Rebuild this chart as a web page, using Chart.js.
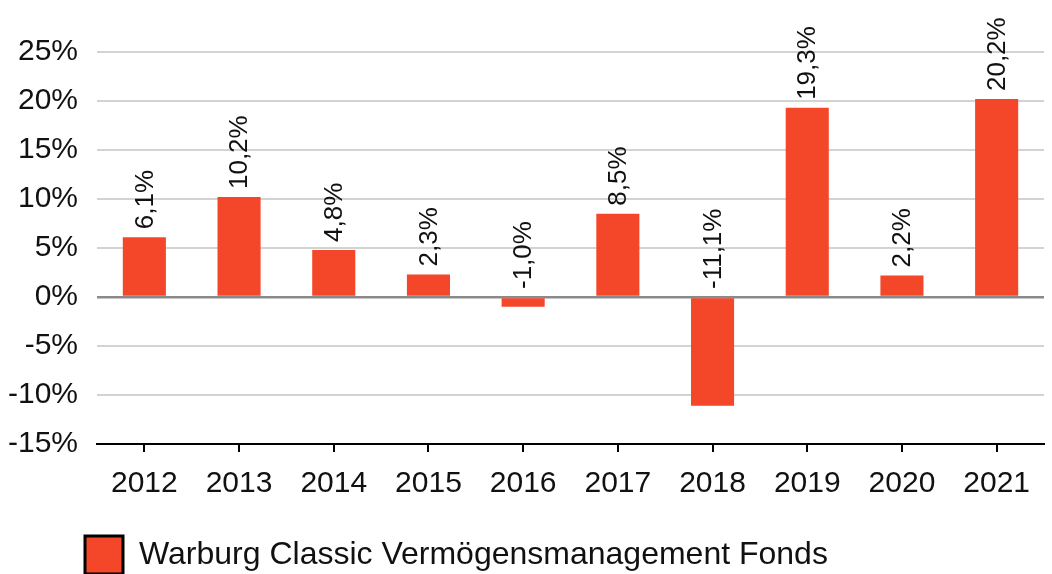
<!DOCTYPE html>
<html>
<head>
<meta charset="utf-8">
<script src="https://cdn.jsdelivr.net/npm/chart.js@4/dist/chart.umd.min.js"></script>
<style>
  html, body { margin: 0; padding: 0; background: #ffffff; }
  #wrap { width: 1052px; height: 574px; }
</style>
</head>
<body>
<div id="wrap"><canvas id="c" width="1052" height="574"></canvas></div>
<script>
const categories = ['2012', '2013', '2014', '2015', '2016', '2017', '2018', '2019', '2020', '2021'];
const fundReturns = [6.1, 10.2, 4.8, 2.3, -1.0, 8.5, -11.1, 19.3, 2.2, 20.2];
const seriesName = 'Warburg Classic Vermögensmanagement Fonds';
const yTicks = [-15, -10, -5, 0, 5, 10, 15, 20, 25];

const BAR_COLOR = '#F4472A';
const FONT = 'Liberation Sans, Arial, sans-serif';

function fmt(v) { return v.toFixed(1).replace('.', ',') + '%'; }

const valueLabels = {
  id: 'valueLabels',
  afterDatasetsDraw(chart) {
    const ctx = chart.ctx;
    const meta = chart.getDatasetMeta(0);
    const yScale = chart.scales.y;
    const zeroY = yScale.getPixelForValue(0);
    ctx.save();
    ctx.font = '26px ' + FONT;
    ctx.fillStyle = '#111111';
    ctx.textAlign = 'left';
    ctx.textBaseline = 'middle';
    meta.data.forEach((bar, i) => {
      const v = fundReturns[i];
      const startY = (v >= 0 ? bar.y : zeroY) - 8;
      ctx.save();
      ctx.translate(bar.x, startY);
      ctx.rotate(-Math.PI / 2);
      ctx.fillText(fmt(v), 0, 1);
      ctx.restore();
    });
    ctx.restore();
  }
};

const legendShift = {
  id: 'legendShift',
  afterLayout(chart) {
    const lg = chart.legend;
    if (lg) { lg.left = 75; lg.right = 1052; }
  }
};

new Chart(document.getElementById('c'), {
  type: 'bar',
  data: {
    labels: categories,
    datasets: [{
      label: seriesName,
      data: fundReturns,
      backgroundColor: BAR_COLOR,
      borderWidth: 0,
      categoryPercentage: 1.0,
      barPercentage: 0.455
    }]
  },
  options: {
    responsive: false,
    animation: false,
    devicePixelRatio: 1,
    layout: { padding: { left: 0, right: 8, top: 52, bottom: 0 } },
    plugins: {
      tooltip: { enabled: false },
      legend: {
        display: true,
        position: 'bottom',
        align: 'start',
        maxHeight: 48,
        labels: {
          boxWidth: 38,
          boxHeight: 38,
          padding: 10,
          color: '#111111',
          font: { family: FONT, size: 32 },
          generateLabels(chart) {
            return chart.data.datasets.map((ds, i) => ({
              text: ds.label,
              fillStyle: BAR_COLOR,
              strokeStyle: '#000000',
              lineWidth: 3,
              fontColor: '#111111',
              hidden: false,
              datasetIndex: i
            }));
          }
        }
      }
    },
    scales: {
      x: {
        offset: true,
        grid: {
          display: true,
          offset: false,
          drawOnChartArea: false,
          drawTicks: true,
          tickLength: 8,
          color: '#000000',
          lineWidth: 2
        },
        border: { display: true, color: '#000000', width: 2 },
        ticks: {
          color: '#111111',
          padding: 14,
          font: { family: FONT, size: 30 }
        },
        afterFit(scale) { scale.height = 82; }
      },
      y: {
        min: -15,
        max: 25,
        afterBuildTicks(scale) { scale.ticks = yTicks.map(v => ({ value: v })); },
        grid: {
          drawTicks: false,
          lineWidth(ctx) { return ctx.tick && ctx.tick.value === 0 ? 2.5 : 2; },
          color(ctx) {
            if (!ctx.tick) return '#d3d3d3';
            if (ctx.tick.value === 0) return '#8a8a8a';
            if (ctx.tick.value === -15) return '#000000';
            return '#d3d3d3';
          }
        },
        border: { display: false },
        ticks: {
          color: '#111111',
          padding: 19,
          font: { family: FONT, size: 30 },
          callback(v) { return v + '%'; }
        },
        afterFit(scale) { scale.width = 97; }
      }
    }
  },
  plugins: [valueLabels, legendShift]
});
</script>
</body>
</html>
